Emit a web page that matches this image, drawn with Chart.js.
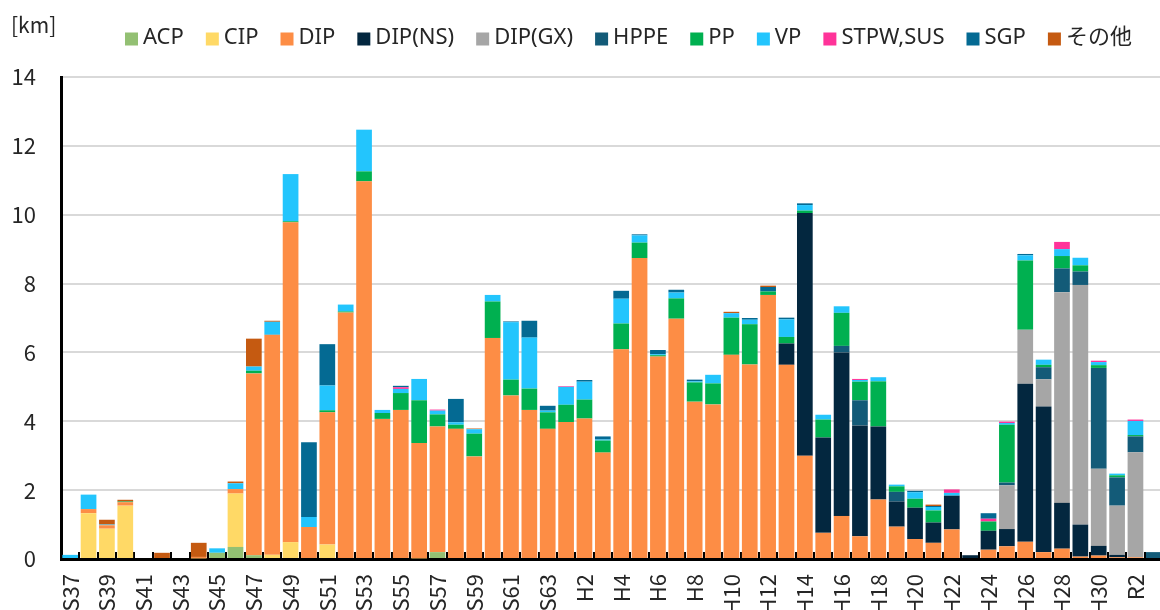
<!DOCTYPE html>
<html><head><meta charset="utf-8">
<script src="https://cdn.jsdelivr.net/npm/chart.js@4"></script>
<style>
html,body{margin:0;padding:0;overflow:hidden;background:#fff;}
#c{display:block;}
</style></head><body>
<canvas id="c" width="1163" height="610"></canvas>
<script>
const categories = ["S37","S38","S39","S40","S41","S42","S43","S44","S45","S46","S47","S48","S49","S50","S51","S52","S53","S54","S55","S56","S57","S58","S59","S60","S61","S62","S63",
"H1","H2","H3","H4","H5","H6","H7","H8","H9","H10","H11","H12","H13","H14","H15","H16","H17","H18","H19","H20","H21","H22","H23","H24","H25","H26","H27","H28","H29","H30","R1","R2","R3"];
const seriesNames = ["ACP","CIP","DIP","DIP(NS)","DIP(GX)","HPPE","PP","VP","STPW,SUS","SGP","その他"];
const seriesColors = ["#93c073","#ffd966","#fd8d45","#03273f","#a6a6a6","#135b78","#00b050","#23c5fd","#ff3399","#046a93","#c55a11"];
const unitLabel = "[km]";
const yTicks = [0,2,4,6,8,10,12,14];

function fill(pairs){ const a = new Array(60).fill(0); for (const k in pairs) a[+k] = pairs[k]; return a; }

const ACP = fill({8:0.18, 9:0.35, 10:0.11, 20:0.2});
const CIP = fill({1:1.33, 2:0.88, 3:1.55, 7:0.02, 9:1.55, 11:0.12, 12:0.49, 14:0.42, 19:0.02});
const DIP = fill({1:0.12,2:0.1,3:0.1,7:0.04,9:0.13,10:5.28,11:6.39,12:9.29,13:0.93,14:3.84,15:7.16,16:10.97,17:4.07,18:4.33,19:3.35,20:3.65,21:3.78,22:2.98,23:6.42,24:4.75,25:4.33,26:3.78,27:3.98,28:4.08,29:3.09,30:6.09,31:8.74,32:5.88,33:6.98,34:4.57,35:4.49,36:5.93,37:5.65,38:7.67,39:5.64,40:3.0,41:0.76,42:1.25,43:0.66,44:1.73,45:0.94,46:0.58,47:0.47,48:0.86,50:0.27,51:0.37,52:0.5,53:0.2,54:0.3,55:0.07,56:0.1,57:0.05,58:0.05});
const DIP_NS = fill({39:0.62,40:7.05,41:2.77,42:4.75,43:3.22,44:2.12,45:0.73,46:0.91,47:0.59,48:0.98,49:0.11,50:0.55,51:0.5,52:4.59,53:4.23,54:1.33,55:0.93,56:0.28,57:0.07});
const DIP_GX = fill({51:1.27,52:1.57,53:0.79,54:6.12,55:6.96,56:2.24,57:1.43,58:3.05});
const HPPE = fill({42:0.19,43:0.73,45:0.28,51:0.08,53:0.35,54:0.69,55:0.39,56:2.93,57:0.82,58:0.46,59:0.2});
const PP = fill({3:0.02,10:0.08,12:0.03,14:0.06,15:0.03,16:0.29,17:0.17,18:0.49,19:1.24,20:0.35,21:0.12,22:0.66,23:1.06,24:0.46,25:0.62,26:0.48,27:0.5,28:0.55,29:0.35,30:0.75,31:0.45,32:0.04,33:0.59,34:0.56,35:0.61,36:1.08,37:1.17,38:0.1,39:0.19,40:0.07,41:0.52,42:0.96,43:0.54,44:1.31,45:0.16,46:0.26,47:0.35,50:0.27,51:1.68,52:2.01,53:0.07,54:0.36,55:0.18,56:0.08,57:0.06,58:0.04});
const VP = fill({0:0.12,1:0.42,2:0.02,8:0.13,9:0.17,10:0.12,11:0.38,12:1.37,13:0.29,14:0.72,15:0.2,16:1.21,17:0.09,18:0.12,19:0.62,20:0.11,21:0.07,22:0.13,23:0.19,24:1.67,25:1.48,26:0.05,27:0.52,28:0.52,29:0.03,30:0.72,31:0.21,32:0.03,33:0.17,34:0.03,35:0.25,36:0.13,37:0.13,39:0.51,40:0.16,41:0.14,42:0.19,43:0.05,44:0.12,45:0.05,46:0.19,47:0.1,48:0.08,51:0.05,52:0.15,53:0.15,54:0.2,55:0.22,56:0.09,57:0.05,58:0.41});
const STPW = fill({18:0.05,20:0.03,27:0.02,43:0.03,48:0.1,50:0.08,51:0.04,54:0.21,56:0.04,58:0.04});
const SGP = fill({13:2.17,14:1.2,18:0.04,21:0.68,24:0.02,25:0.49,26:0.14,28:0.05,29:0.09,30:0.23,31:0.03,32:0.12,33:0.08,34:0.05,37:0.05,38:0.13,39:0.05,40:0.05,46:0.04,47:0.03,50:0.16,52:0.04});
const OTHER = fill({2:0.14,3:0.05,5:0.18,7:0.41,9:0.05,10:0.81,11:0.03,22:0.02,36:0.04,38:0.04,47:0.04});

const seriesValues = [ACP, CIP, DIP, DIP_NS, DIP_GX, HPPE, PP, VP, STPW, SGP, OTHER];

const FONT = '"Noto Sans CJK JP", "Noto Sans", sans-serif';
const LEGEND_FONT = '22px "Noto Sans", "Noto Sans CJK JP", sans-serif';
const TEXT = '#262626';

const legendPlugin = {
  id: 'customLegend',
  afterDraw(chart) {
    const ctx = chart.ctx;
    ctx.save();
    ctx.font = '21px ' + FONT;
    ctx.textBaseline = 'middle';
    ctx.fillStyle = TEXT;
    ctx.fillText(unitLabel, 11, 25);
    let x = 125; const y = 39;
    ctx.font = LEGEND_FONT;
    chart.data.datasets.forEach(ds => {
      ctx.fillStyle = ds.backgroundColor;
      ctx.fillRect(x, y - 6.5, 13, 13);
      x += 18;
      ctx.fillStyle = TEXT;
      ctx.fillText(ds.label, x, y - 1);
      x += ctx.measureText(ds.label).width + 22;
    });
    ctx.restore();
  }
};

new Chart(document.getElementById('c'), {
  type: 'bar',
  data: {
    labels: categories,
    datasets: seriesNames.map((n, i) => ({
      label: n, data: seriesValues[i], backgroundColor: seriesColors[i],
      borderWidth: 0, barPercentage: 0.855, categoryPercentage: 1
    }))
  },
  options: {
    responsive: false, animation: false,
    layout: { padding: { top: 77, left: 0, right: 0, bottom: 0 } },
    plugins: { legend: { display: false }, tooltip: { enabled: false } },
    scales: {
      x: {
        stacked: true,
        grid: { display: true, drawOnChartArea: false, drawTicks: true, tickLength: -7, color: '#000', lineWidth: 2, offset: true },
        border: { display: true, color: '#000', width: 3 },
        ticks: { autoSkip: false, maxRotation: 90, minRotation: 90, padding: 22, color: TEXT,
          font: { size: 22, family: FONT },
          callback: (v, i) => (i % 2 === 0 ? categories[i] : '') },
        afterFit(s) { s.height = 51; s.paddingLeft = 0; s.paddingRight = 0; }
      },
      y: {
        stacked: true, min: 0, max: 14,
        afterBuildTicks(s) { s.ticks = yTicks.map(v => ({ value: v })); },
        grid: { color: '#d9d9d9', lineWidth: 2, drawTicks: false },
        border: { display: true, color: '#000', width: 3 },
        ticks: { padding: 25, color: TEXT, font: { size: 22, family: FONT } },
        afterFit(s) { s.width = 61; s.paddingTop = 0; s.paddingBottom = 0; }
      }
    }
  },
  plugins: [legendPlugin]
});
</script>
</body></html>
